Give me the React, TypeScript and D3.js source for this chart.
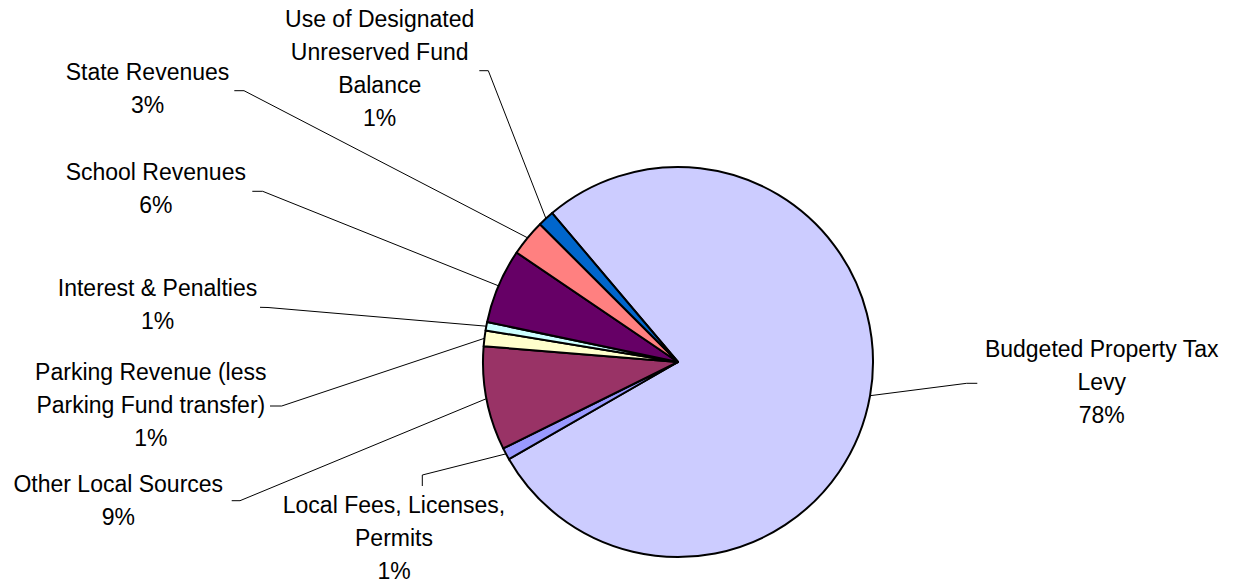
import React from "react";
import * as d3 from "d3";

// ---- Data ----
const categories: string[] = [
  "Budgeted Property Tax Levy",
  "Local Fees, Licenses, Permits",
  "Other Local Sources",
  "Parking Revenue (less Parking Fund transfer)",
  "Interest & Penalties",
  "School Revenues",
  "State Revenues",
  "Use of Designated Unreserved Fund Balance",
];
const values: number[] = [77.9, 1.0, 8.6, 1.3, 0.7, 6.2, 3.0, 1.35];
const percentLabels: string[] = ["78%", "1%", "9%", "1%", "1%", "6%", "3%", "1%"];
const labelLines: string[][] = [
  ["Budgeted Property Tax", "Levy"],
  ["Local Fees, Licenses,", "Permits"],
  ["Other Local Sources"],
  ["Parking Revenue (less", "Parking Fund transfer)"],
  ["Interest & Penalties"],
  ["School Revenues"],
  ["State Revenues"],
  ["Use of Designated", "Unreserved Fund", "Balance"],
];

// ---- Styles / layout ----
const colors: string[] = [
  "#CCCCFF",
  "#9999FF",
  "#993366",
  "#FFFFCC",
  "#CCFFFF",
  "#660066",
  "#FF8080",
  "#0066CC",
];

// label center x, first baseline y, leader end (at label) and elbow
const labelLayout = [
  { x: 1101.7, y: 357, end: [977.3, 383.3], elbow: [966.7, 383.3] },
  { x: 394, y: 513.3, end: [422.3, 486], elbow: [422.3, 475] },
  { x: 118.3, y: 491.7, end: [231.7, 500.7], elbow: [240, 500.7] },
  { x: 150.8, y: 380, end: [270, 406], elbow: [281.7, 406] },
  { x: 157.5, y: 296, end: [260, 307.3], elbow: [268, 307.5] },
  { x: 155.8, y: 180, end: [252.3, 191.3], elbow: [262.7, 191.3] },
  { x: 147.5, y: 80, end: [234.3, 90.7], elbow: [244, 90.7] },
  { x: 379.7, y: 27.3, end: [479.3, 70.7], elbow: [488.3, 70.7] },
];

const W = 1239;
const H = 585;
const CX = 678;
const CY = 362;
const R = 195;
const LINE_H = 33;
const START_DEG = -40.2;

export default function App() {
  const start = (START_DEG * Math.PI) / 180;
  const pie = d3
    .pie<number>()
    .sort(null)
    .value((d) => d)
    .startAngle(start)
    .endAngle(start + 2 * Math.PI);
  const arcs = pie(values);
  const arc = d3.arc<d3.PieArcDatum<number>>().innerRadius(0).outerRadius(R);
  const edge = d3.arc<d3.PieArcDatum<number>>().innerRadius(R).outerRadius(R);

  return (
    <svg
      width={W}
      height={H}
      style={{ position: "absolute", left: 0, top: 0, background: "#fff" }}
      fontFamily="'Liberation Sans', Arial, sans-serif"
    >
      <rect x={0} y={0} width={W} height={H} fill="#fff" />
      <g transform={`translate(${CX},${CY})`}>
        {arcs.map((a, i) => (
          <path
            key={categories[i]}
            d={arc(a) || ""}
            fill={colors[i]}
            stroke="#000"
            strokeWidth={2}
            strokeLinejoin="round"
          />
        ))}
      </g>
      {arcs.map((a, i) => {
        const [px, py] = edge.centroid(a);
        const L = labelLayout[i];
        const pts: [number, number][] = [
          [CX + px, CY + py],
          [L.elbow[0], L.elbow[1]],
          [L.end[0], L.end[1]],
        ];
        const line = d3.line()(pts) || "";
        return (
          <path
            key={"l" + i}
            d={line}
            fill="none"
            stroke="#000"
            strokeWidth={1}
          />
        );
      })}
      {categories.map((c, i) => {
        const L = labelLayout[i];
        const lines = [...labelLines[i], percentLabels[i]];
        return (
          <text
            key={"t" + c}
            x={L.x}
            y={L.y}
            textAnchor="middle"
            fontSize={23}
            fill="#000"
          >
            {lines.map((ln, j) => (
              <tspan key={j} x={L.x} y={L.y + j * LINE_H}>
                {ln}
              </tspan>
            ))}
          </text>
        );
      })}
    </svg>
  );
}
